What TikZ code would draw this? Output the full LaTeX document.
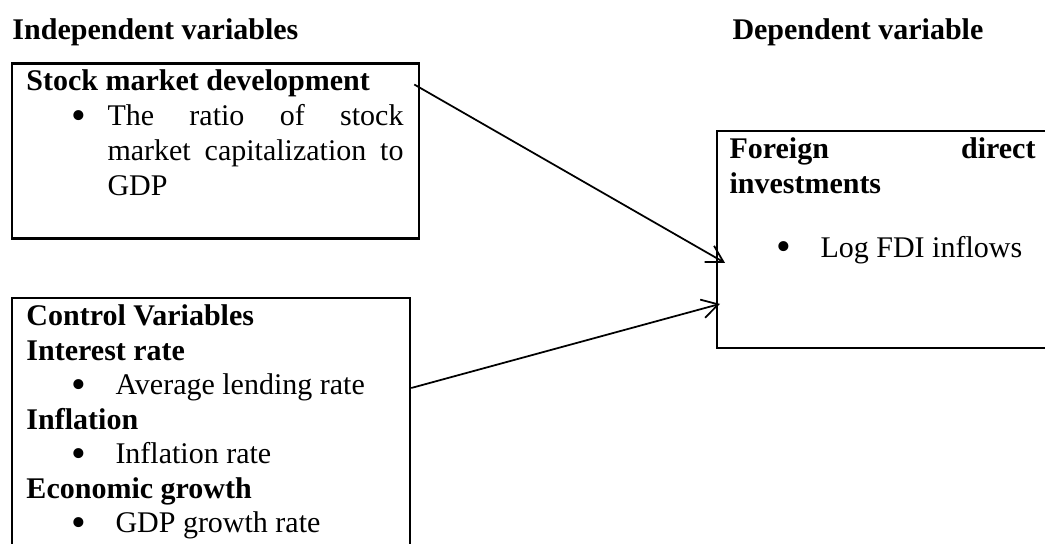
\documentclass[tikz,border=0pt]{standalone}
\usepackage{fontspec}
\usepackage{graphicx}
\setmainfont{Liberation Serif}
\usetikzlibrary{calc,arrows.meta}

% bullet line: bullet box width, text
\newcommand{\bigbul}{\raisebox{-1.5pt}{\scalebox{1.4}{\textbullet}}}
\newcommand{\bul}[2]{\hspace*{18pt}\makebox[#1][l]{\bigbul}#2}

\begin{document}
\begin{tikzpicture}[x=0.4pt,y=-0.4pt,
    box/.style={draw,line width=0.9pt,inner sep=0pt,anchor=north west},
    txt/.style={inner sep=0pt,anchor=base west,align=left,
        font=\fontsize{12}{14}\selectfont,
        execute at begin node={\spaceskip=0pt\xspaceskip=0pt}},
    head/.style={txt,font=\fontsize{12}{14}\selectfont\bfseries},
    arr/.style={-{Straight Barb[length=6.5pt,width=7.5pt]},line width=0.7pt}]
\useasboundingbox (0,0) rectangle (1045,544);
\clip (0,0) rectangle (1045,544);

% headings
\node[head] (indephead) at (12,40) {Independent variables};
\node[head] (dephead) at (732,40) {Dependent variable};

% boxes
\node[box,minimum width=162.8pt,minimum height=70pt] (smdbox) at (11,62.5) {};
\node[box,minimum width=159.2pt,minimum height=101.2pt] (ctrlbox) at (11,297) {};
\node[box,minimum width=133.6pt,minimum height=86.8pt] (fdibox) at (716,130) {};

% box texts
\node[txt,text width=150.8pt] (smdtext) at (26,91) {%
    \textbf{Stock market development}\\
    \bul{14.4pt}{\makebox[118.4pt][s]{The ratio of stock}}\\
    \hspace*{32.4pt}\makebox[118.4pt][s]{market capitalization to}\\
    \hspace*{32.4pt}GDP};
\node[txt,text width=148pt,font=\fontsize{12}{13.8}\selectfont] (ctrltext) at (26,326) {%
    \textbf{Control Variables}\\
    \textbf{Interest rate}\\
    \bul{17.6pt}{Average lending rate}\\
    \textbf{Inflation}\\
    \bul{17.6pt}{Inflation rate}\\
    \textbf{Economic growth}\\
    \bul{17.6pt}{GDP growth rate}};
\node[txt,text width=122.4pt] (fditext) at (729,159) {%
    \makebox[122.4pt]{\textbf{Foreign\hfill direct}}\\
    \textbf{investments}\\[11.3pt]
    \hspace*{18.6pt}\makebox[17.8pt][l]{\bigbul}Log FDI inflows};

% connectors
\draw[arr] ($(smdbox.north east)+(-6,22)$) -- ($(fdibox.west)+(9,23.3)$);
\draw[arr] ($(ctrlbox.north east)+(0,91)$) -- ($(fdibox.west)+(4,64.3)$);
\end{tikzpicture}
\end{document}
